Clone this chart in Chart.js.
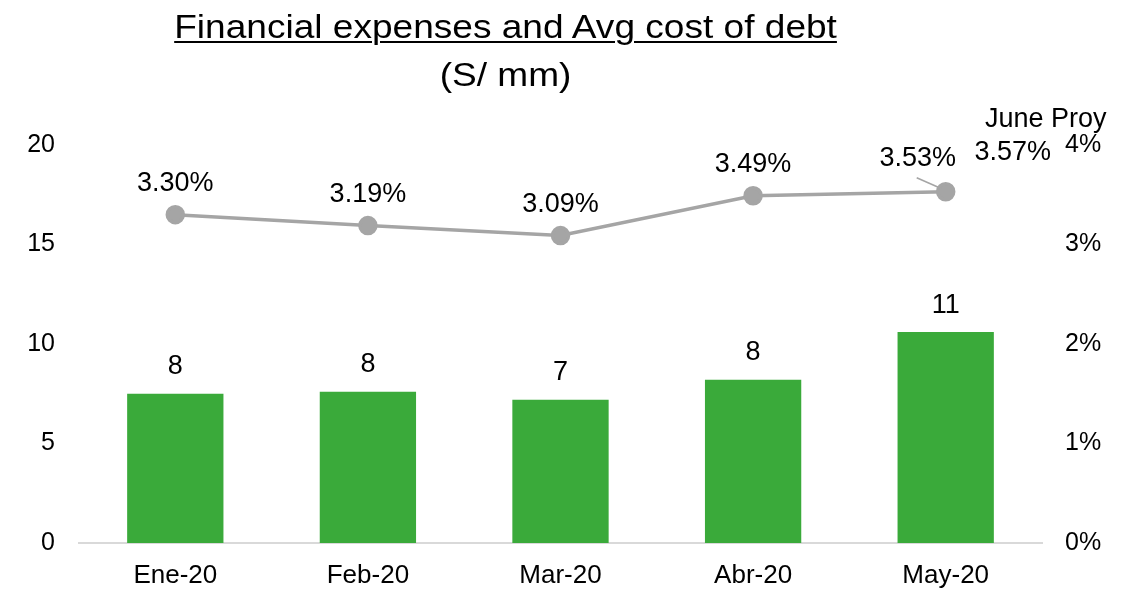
<!DOCTYPE html>
<html>
<head>
<meta charset="utf-8">
<script src="https://cdn.jsdelivr.net/npm/chart.js@4"></script>
<style>
  html, body { margin: 0; padding: 0; background: #fff; }
  #wrap { position: relative; width: 1131px; height: 592px; font-family: "Liberation Sans", Arial, sans-serif; }
  #title { position: absolute; left: 0; width: 1011px; top: 2px; text-align: center; font-size: 34px; line-height: 48px; color: #000;
           transform: scaleX(1.09); transform-origin: 505px 0; }
  #title u { text-underline-offset: 3px; text-decoration-thickness: 2px; }
  canvas { position: absolute; left: 0; top: 0; }
</style>
</head>
<body>
<div id="wrap">
  <canvas id="chart" width="1131" height="592"></canvas>
  <div id="title"><u>Financial expenses and Avg cost of debt</u><br>(S/ mm)</div>
</div>
<script>
const months = ["Ene-20", "Feb-20", "Mar-20", "Abr-20", "May-20"];
const expenses = [7.5, 7.6, 7.2, 8.2, 10.6];
const costOfDebt = [3.30, 3.19, 3.09, 3.49, 3.53];
const projLabel = "June Proy";
const projValue = 3.57;

const GREEN = "#3AAA3A";
const GREY = "#A5A5A5";
const FONT = "Liberation Sans, Arial, sans-serif";

const labelsPlugin = {
  id: "labels",
  afterDatasetsDraw(chart) {
    const ctx = chart.ctx;
    ctx.save();
    ctx.fillStyle = "#000";
    ctx.textAlign = "center";
    ctx.textBaseline = "middle";
    ctx.font = "27px " + FONT;

    // bar values
    chart.getDatasetMeta(1).data.forEach((bar, i) => {
      ctx.fillText(String(Math.round(expenses[i])), bar.x, bar.y - 27);
    });

    // line values
    const pts = chart.getDatasetMeta(0).data;
    pts.forEach((pt, i) => {
      const txt = costOfDebt[i].toFixed(2) + "%";
      if (i === pts.length - 1) {
        ctx.fillText(txt, pt.x - 28, pt.y - 33);
        ctx.strokeStyle = GREY;
        ctx.lineWidth = 1.5;
        ctx.beginPath();
        ctx.moveTo(pt.x - 29, pt.y - 14);
        ctx.lineTo(pt.x - 4, pt.y - 3);
        ctx.stroke();
        // projection note
        ctx.fillText(projValue.toFixed(2) + "%", pt.x + 67, pt.y - 39);
        ctx.fillText(projLabel, pt.x + 100, pt.y - 72);
      } else {
        ctx.fillText(txt, pt.x, pt.y - 31);
      }
    });
    ctx.restore();
  }
};

new Chart(document.getElementById("chart").getContext("2d"), {
  data: {
    labels: months,
    datasets: [
      { type: "line", label: "Avg cost of debt", data: costOfDebt, yAxisID: "y2",
        borderColor: GREY, backgroundColor: GREY, borderWidth: 3.5, pointRadius: 8,
        pointHoverRadius: 8, tension: 0, order: 0 },
      { type: "bar", label: "Financial expenses", data: expenses, yAxisID: "y",
        backgroundColor: GREEN, borderWidth: 0, barPercentage: 0.5, categoryPercentage: 1, order: 1 }
    ]
  },
  options: {
    responsive: false,
    animation: false,
    layout: { padding: { top: 145, left: 0, right: 0, bottom: 0 } },
    plugins: { legend: { display: false }, tooltip: { enabled: false }, title: { display: false } },
    scales: {
      x: {
        grid: { display: false, drawTicks: false },
        border: { display: true, color: "#D9D9D9", width: 2 },
        ticks: { color: "#000", font: { family: FONT, size: 26 }, padding: 17 },
        afterFit: (s) => { s.height = 49; }
      },
      y: {
        position: "left", min: 0, max: 20,
        grid: { display: false, drawTicks: false },
        border: { display: false },
        ticks: { stepSize: 5, color: "#000", font: { family: FONT, size: 25 }, padding: 24 },
        afterFit: (s) => { s.width = 79; }
      },
      y2: {
        position: "right", min: 0, max: 4,
        grid: { display: false, drawTicks: false },
        border: { display: false },
        ticks: { stepSize: 1, color: "#000", font: { family: FONT, size: 25 }, padding: 23,
          callback: (v) => v + "%" },
        afterFit: (s) => { s.width = 89; }
      }
    }
  },
  plugins: [labelsPlugin]
});
</script>
</body>
</html>
